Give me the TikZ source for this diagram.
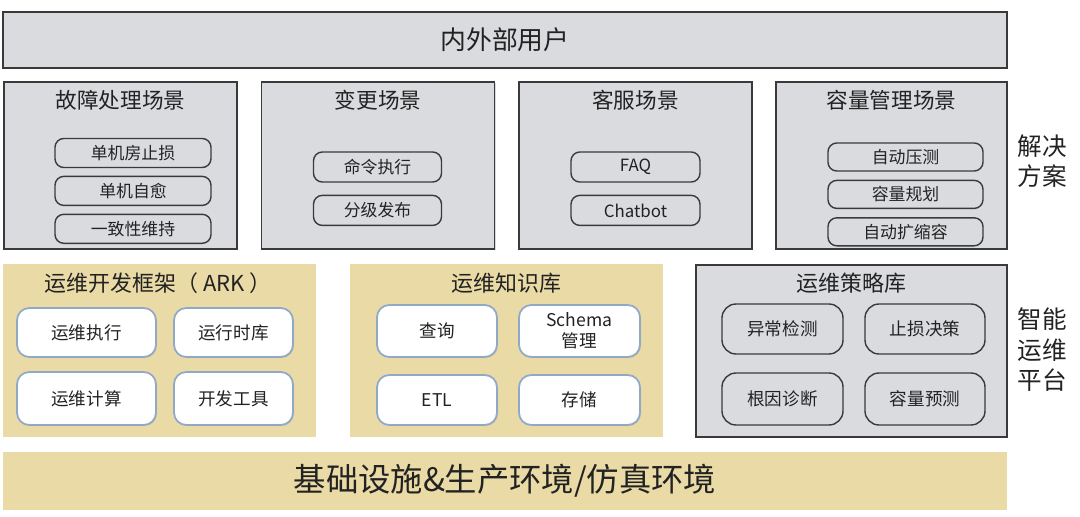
\documentclass[tikz,border=0pt]{standalone}
\usepackage{fontspec}
\setmainfont{Noto Sans CJK SC}
\usetikzlibrary{positioning, shadows}
\definecolor{panel}{HTML}{DADBDF}
\definecolor{panelborder}{HTML}{3A3A3A}
\definecolor{sand}{HTML}{E9DAA6}
\definecolor{itemborder}{HTML}{8FA9C6}
\definecolor{ink}{HTML}{222222}
\newcommand{\pxl}{0.02cm}

\begin{document}
\begin{tikzpicture}[
    x=0.02cm, y=-0.02cm,
    box/.style 2 args={minimum width=#1*\pxl, minimum height=#2*\pxl, inner sep=0pt},
    layer/.style={draw=panelborder, fill=panel, line width=0.8pt, text=ink,
                  drop shadow={opacity=0.3, shadow xshift=0.7pt, shadow yshift=-0.7pt}},
    sandbg/.style={fill=sand, draw=none, text=ink},
    opt/.style={draw=panelborder, fill=panel, rounded corners=5pt, line width=0.8pt,
                text=ink, font=\fontsize{9.6}{11}\selectfont},
    mod/.style={draw=itemborder, fill=white, rounded corners=7pt, line width=1pt,
                text=ink, font=\fontsize{10}{12}\selectfont, align=center,
                drop shadow={opacity=0.2, shadow xshift=0.6pt, shadow yshift=-0.6pt}},
    strat/.style={draw=panelborder, fill=panel, rounded corners=8pt, line width=0.8pt,
                  text=ink, font=\fontsize{10}{12}\selectfont},
    ttl/.style={text=ink, font=\fontsize{12.3}{14}\selectfont},
    side/.style={text=ink, align=center, font=\fontsize{14}{17.4}\selectfont},
]
\useasboundingbox (0,0) rectangle (1080,517);

% users
\node[layer, box={1004}{56}, font=\fontsize{14.7}{17}\selectfont] (users) at (505,40) {内外部用户};

% scenarios
\node[layer, box={233}{167}] (fault) at (120.5,165.5) {};
\node[layer, box={233}{167}] (change) at (378,165.5) {};
\node[layer, box={233}{167}] (service) at (635.5,165.5) {};
\node[layer, box={231}{167}] (capacity) at (891.5,165.5) {};

\node[ttl] (faultt) at (120.5,100) {故障处理场景};
\node[ttl] (changet) at (378,100) {变更场景};
\node[ttl] (servicet) at (635.5,100) {客服场景};
\node[ttl] (capacityt) at (891.5,100) {容量管理场景};

\node[opt, box={156}{29}] (f1) at (133,153) {单机房止损};
\node[opt, box={156}{29}, below=0.15cm of f1] (f2) {单机自愈};
\node[opt, box={156}{29}, below=0.15cm of f2] (f3) {一致性维持};

\node[opt, box={128}{30}] (c1) at (377.5,167) {命令执行};
\node[opt, box={128}{30}, below=0.24cm of c1] (c2) {分级发布};

\node[opt, box={129}{30}] (s1) at (635.5,167) {FAQ};
\node[opt, box={129}{30}, below=0.24cm of s1] (s2) {Chatbot};

\node[opt, box={155}{28}] (k1) at (905.5,157) {自动压测};
\node[opt, box={155}{28}, below=0.16cm of k1] (k2) {容量规划};
\node[opt, box={155}{28}, below=0.16cm of k2] (k3) {自动扩缩容};

\node[side] (solution) at (1042,161) {解决\\方案};

% platform
\node[sandbg, box={313}{173}] (ark) at (159.5,350.5) {};
\node[sandbg, box={313}{173}] (know) at (506.5,350.5) {};
\node[layer, box={311}{172}] (policy) at (851.5,351) {};

\node[ttl, font=\fontsize{12.5}{14}\selectfont] (arkt) at (158,283) {运维开发框架（ ARK ）};
\node[ttl, font=\fontsize{12.5}{14}\selectfont] (knowt) at (506.5,283) {运维知识库};
\node[ttl, font=\fontsize{12.5}{14}\selectfont] (policyt) at (851.5,283) {运维策略库};

\node[mod, box={139}{49}] (a1) at (86.5,332.5) {运维执行};
\node[mod, box={119}{49}] (a2) at (233.5,332.5) {运行时库};
\node[mod, box={139}{53}] (a3) at (86.5,398.5) {运维计算};
\node[mod, box={119}{53}] (a4) at (233.5,398.5) {开发工具};

\node[mod, box={120}{52}] (n1) at (437,331) {查询};
\node[mod, box={121}{52}] (n2) at (579.5,331) {Schema\\管理};
\node[mod, box={120}{50}] (n3) at (437,400) {ETL};
\node[mod, box={121}{50}] (n4) at (579.5,400) {存储};

\node[strat, box={121}{50}] (p1) at (782.5,329) {异常检测};
\node[strat, box={120}{50}] (p2) at (925,329) {止损决策};
\node[strat, box={121}{52}] (p3) at (782.5,399) {根因诊断};
\node[strat, box={120}{52}] (p4) at (925,399) {容量预测};

\node[side] (aiops) at (1042,350) {智能\\运维\\平台};

% infrastructure
\node[sandbg, box={1004}{58}, font=\fontsize{18.4}{21}\selectfont] (infra) at (505,481) {基础设施\&生产环境/仿真环境};

\end{tikzpicture}
\end{document}
